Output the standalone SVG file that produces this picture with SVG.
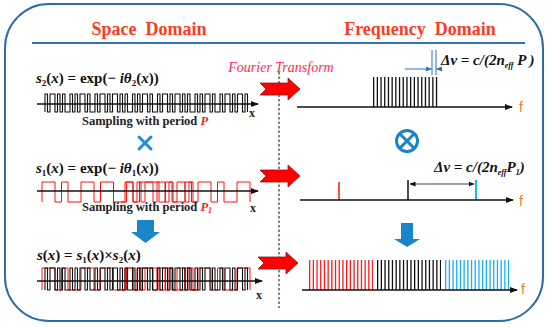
<svg xmlns="http://www.w3.org/2000/svg" width="550" height="327" viewBox="0 0 550 327">
<style>
.hdr{font-family:"Liberation Serif","Times New Roman","DejaVu Serif",serif;font-weight:bold;font-size:18px;fill:#ff3b1f}
.math{font-family:"Liberation Serif","Times New Roman","DejaVu Serif",serif;font-weight:bold;font-size:15px;fill:#111}
.it{font-style:italic}
.cap{font-family:"Liberation Serif","Times New Roman","DejaVu Serif",serif;font-weight:bold;font-size:12.5px;fill:#222}
.ax{stroke:#111;stroke-width:1.3;fill:none;marker-end:url(#ah)}
.f{font-family:"Liberation Sans",Arial,sans-serif;font-size:14px;fill:#f07b2a}
.xl{font-family:"Liberation Serif","Times New Roman","DejaVu Serif",serif;font-weight:bold;font-size:12px;fill:#222}
.ft{font-family:"Liberation Serif","Times New Roman","DejaVu Serif",serif;font-style:italic;font-size:14px;fill:#ff2a50}
.ra{fill:#ff0000;stroke:#8b1a1a;stroke-width:0.8}
.bl{fill:#1a86c8}
.bw{fill:none;stroke:#111;stroke-width:1.1}
.rw{fill:none;stroke:#ff1010;stroke-width:1}
.comb{fill:none;stroke-dasharray:1.3 2.4}
</style>
<defs>
<marker id="ah" markerWidth="8" markerHeight="6" refX="7" refY="3" orient="auto" markerUnits="userSpaceOnUse"><path d="M0,0 L8,3 L0,6 Z" fill="#111"/></marker>
<marker id="sa" markerWidth="6" markerHeight="5" refX="5.5" refY="2.5" orient="auto-start-reverse" markerUnits="userSpaceOnUse"><path d="M0,0 L6,2.5 L0,5 Z" fill="#111"/></marker>
<marker id="ba" markerWidth="6" markerHeight="5" refX="5.5" refY="2.5" orient="auto" markerUnits="userSpaceOnUse"><path d="M0,0 L6,2.5 L0,5 Z" fill="#2e75b6"/></marker>
<path id="redArrow" class="ra" d="M-40,-6 H-12 V-11 L0,0 L-12,11 V6 H-40 L-34,0 Z"/>
<path id="bwave" class="bw" vector-effect="non-scaling-stroke" d="M45,112
v-18h2.5v18h2.5 v-18h5v18h2.5 v-18h2.5v18h2.5 v-18h2.5v18h5 v-18h2.5v18h2.5 v-18h2.5v18h2.5 v-18h5v18h2.5 v-18h2.5v18h5 v-18h2.5v18h2.5 v-18h5v18h2.5
v-18h2.5v18h2.5 v-18h5v18h2.5 v-18h2.5v18h2.5 v-18h2.5v18h5 v-18h2.5v18h2.5 v-18h2.5v18h2.5 v-18h5v18h2.5 v-18h2.5v18h5 v-18h2.5v18h2.5 v-18h5v18h2.5
v-18h2.5v18h2.5 v-18h5v18h2.5 v-18h2.5v18h2.5 v-18h2.5v18h5 v-18h2.5v18h2.5 v-18h2.5v18h2.5 v-18h5v18h2.5 v-18h2.5v18h5 v-18h2.5v18h2.5 v-18h5v18h2.5
v-18h2.5v18h2.5 v-18h5v18h2.5 v-18h2.5v18"/>
<g id="rwave" class="rw">
<path vector-effect="non-scaling-stroke" d="M42,202V182h6.5h6.5V202h6.5V182h6.5V202h6.5h6.5V182h6.5h6.5V202h6.5V182h6.5h6.5V202h6.5h6.5V182h6.5V202h6.5V182h6.5h6.5h6.5V202h6.5V182h6.5V202h6.5h6.5V182h6.5V202h6.5V182h6.5h6.5V202h6.5V182h6.5V202h6.5h6.5V182h6.5h6.5V202"/>
<path vector-effect="non-scaling-stroke" d="M121,202h4V182h4h4V202h4V182h4V202h4V182h4h4V202h4V182h4h4V202h4V182h4V202h4V182h4h4V202h4V182h4V202h4"/>
</g>
</defs>

<rect width="550" height="327" fill="#fff"/>
<g id="frame">
<rect x="5" y="4" width="538" height="317" rx="44" ry="44" fill="none" stroke="#2d6da6" stroke-width="2"/>
<line x1="32" y1="43" x2="525" y2="43" stroke="#2e75b6" stroke-width="2"/>
<text class="hdr" x="149" y="35" text-anchor="middle" xml:space="preserve">Space  Domain</text>
<text class="hdr" x="420" y="35" text-anchor="middle" xml:space="preserve">Frequency  Domain</text>
<line x1="279" y1="72" x2="279" y2="308" stroke="#333" stroke-width="1.2" stroke-dasharray="2.5 2"/>
<text class="ft" x="281" y="72" text-anchor="middle">Fourier Transform</text>
</g>

<g id="space-s2">
<text class="math" x="36" y="83"><tspan class="it">s</tspan><tspan font-size="9" dy="3">2</tspan><tspan dy="-3">(</tspan><tspan class="it">x</tspan>) = exp(− <tspan class="it">iθ</tspan><tspan font-size="9" dy="3">2</tspan><tspan dy="-3">(</tspan><tspan class="it">x</tspan>))</text>
<use href="#bwave"/>
<line class="ax" x1="37" y1="104" x2="258" y2="104"/>
<text class="xl" x="249" y="117">x</text>
<text class="cap" x="82" y="125">Sampling with period <tspan class="it" fill="#ff1a1a">P</tspan></text>
</g>

<g id="times" stroke="#1f8fd6" stroke-width="3" stroke-linecap="round">
<line x1="139" y1="137" x2="151" y2="149"/><line x1="151" y1="137" x2="139" y2="149"/>
</g>

<g id="space-s1">
<text class="math" x="36" y="173"><tspan class="it">s</tspan><tspan font-size="9" dy="3">1</tspan><tspan dy="-3">(</tspan><tspan class="it">x</tspan>) = exp(− <tspan class="it">iθ</tspan><tspan font-size="9" dy="3">1</tspan><tspan dy="-3">(</tspan><tspan class="it">x</tspan>))</text>
<use href="#rwave"/>
<line class="ax" x1="37" y1="191" x2="258" y2="191"/>
<text class="xl" x="250" y="212">x</text>
<text class="cap" x="82" y="211">Sampling with period <tspan class="it" fill="#ff1a1a">P</tspan><tspan class="it" fill="#ff1a1a" font-size="8" dy="2">1</tspan></text>
</g>

<g id="down-left"><path class="bl" d="M137,220 H154 V232 H160 L145.5,243 L131,232 H137 Z"/></g>

<g id="space-s">
<text class="math" x="37" y="260"><tspan class="it">s</tspan>(<tspan class="it">x</tspan>) = <tspan class="it">s</tspan><tspan font-size="9" dy="3">1</tspan><tspan dy="-3">(</tspan><tspan class="it">x</tspan>)×<tspan class="it">s</tspan><tspan font-size="9" dy="3">2</tspan><tspan dy="-3">(</tspan><tspan class="it">x</tspan>)</text>
<use href="#rwave" transform="matrix(1,0,0,1.1,0,67.8)"/>
<use href="#bwave" transform="matrix(1,0,0,1.222,0,153.1)"/>
<line class="ax" x1="37" y1="281" x2="262" y2="281"/>
<text class="xl" x="256" y="299">x</text>
</g>

<g id="fourier-arrows">
<use href="#redArrow" transform="translate(300,89)"/>
<use href="#redArrow" transform="translate(300,176)"/>
<use href="#redArrow" transform="translate(298,263)"/>
</g>

<g id="freq-top">
<line class="comb" x1="373" y1="92" x2="438.5" y2="92" stroke="#111" stroke-width="30"/>
<line class="ax" x1="297" y1="107" x2="512" y2="107"/>
<text class="f" x="519" y="112">f</text>
<line x1="432" y1="50" x2="432" y2="75" stroke="#2e75b6" stroke-width="1"/>
<line x1="436" y1="50" x2="436" y2="75" stroke="#2e75b6" stroke-width="1"/>
<line x1="405" y1="69" x2="431.5" y2="69" stroke="#2e75b6" stroke-width="1" marker-end="url(#ba)"/>
<line x1="442" y1="69" x2="436.5" y2="69" stroke="#2e75b6" stroke-width="1" marker-end="url(#ba)"/>
<text class="math it" x="441" y="65">Δv = c/(2n<tspan font-size="8" dy="3">eff</tspan><tspan dy="-3"> P )</tspan></text>
</g>

<g id="otimes" stroke="#1a84c7" stroke-width="3" fill="none">
<circle cx="407" cy="141" r="10.5"/>
<line x1="400" y1="134" x2="414" y2="148"/><line x1="414" y1="134" x2="400" y2="148"/>
</g>

<g id="freq-mid">
<text class="math it" x="434" y="172">Δv = c/(2n<tspan font-size="8" dy="3">eff</tspan><tspan dy="-3">P</tspan><tspan font-size="8" dy="3">1</tspan><tspan dy="-3">)</tspan></text>
<line x1="339" y1="182" x2="339" y2="200" stroke="#ff1010" stroke-width="1.5"/>
<line x1="408" y1="180" x2="408" y2="200" stroke="#111" stroke-width="1.5"/>
<line x1="476" y1="180" x2="476" y2="200" stroke="#00b0f0" stroke-width="1.8"/>
<line x1="410" y1="184" x2="474" y2="184" stroke="#111" stroke-width="0.8" marker-start="url(#sa)" marker-end="url(#sa)"/>
<line class="ax" x1="300" y1="200" x2="513" y2="200"/>
<text class="f" x="519" y="206">f</text>
</g>

<g id="down-right"><path class="bl" d="M401,223 H413 V239 H420 L407,247 L394,239 H401 Z"/></g>

<g id="freq-bottom">
<line class="comb" x1="309" y1="275" x2="373" y2="275" stroke="#ff1a1a" stroke-width="30"/>
<line class="comb" x1="377" y1="275" x2="441" y2="275" stroke="#111" stroke-width="30"/>
<line class="comb" x1="445" y1="275" x2="509" y2="275" stroke="#1ab0f0" stroke-width="30"/>
<line class="ax" x1="302" y1="290" x2="517" y2="290"/>
<text class="f" x="521" y="294">f</text>
</g>
</svg>
